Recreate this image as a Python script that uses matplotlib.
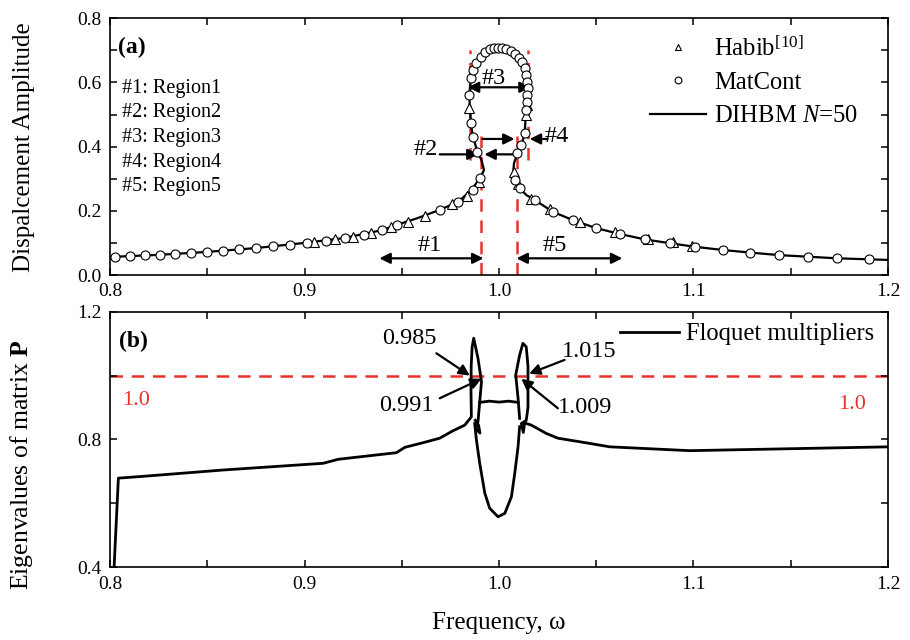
import matplotlib
matplotlib.use("Agg")
import matplotlib.pyplot as plt
from matplotlib.ticker import MultipleLocator, FixedLocator

plt.rcParams['font.family'] = ['Liberation Serif', 'DejaVu Serif']
plt.rcParams['mathtext.fontset'] = 'custom'
plt.rcParams['mathtext.rm'] = 'Liberation Serif'
plt.rcParams['mathtext.it'] = 'Liberation Serif:italic'
plt.rcParams['mathtext.bf'] = 'Liberation Serif:bold'

RED = '#e8322c'

# ---------------- (a) amplitude response ----------------
dihbm_freq = [0.800, 0.8026, 0.8257, 0.850, 0.875, 0.900, 0.920, 0.940, 0.9473, 0.958,
              0.9695, 0.979, 0.9858, 0.9901, 0.9923, 0.991, 0.9889, 0.9866, 0.9855, 0.985,
              0.9847, 0.9855, 0.9884, 0.993, 0.9995, 1.006, 1.0101, 1.0132, 1.0149, 1.0144,
              1.0137, 1.0132, 1.0115, 1.0095, 1.0077, 1.0074, 1.0081, 1.0106, 1.0141, 1.0183,
              1.0277, 1.038, 1.050, 1.062, 1.075, 1.088, 1.1007, 1.115, 1.129, 1.144,
              1.159, 1.174, 1.190, 1.200]
dihbm_amp = [0.055, 0.057, 0.063, 0.072, 0.084, 0.100, 0.115, 0.140, 0.156, 0.177,
             0.203, 0.228, 0.265, 0.301, 0.327, 0.358, 0.384, 0.431, 0.473, 0.524,
             0.561, 0.613, 0.660, 0.696, 0.708, 0.698, 0.677, 0.644, 0.582, 0.538,
             0.493, 0.441, 0.405, 0.379, 0.348, 0.327, 0.296, 0.270, 0.249, 0.234,
             0.197, 0.171, 0.146, 0.128, 0.111, 0.099, 0.088, 0.078, 0.070, 0.062,
             0.057, 0.052, 0.049, 0.047]

matcont_freq = [0.8026, 0.8103, 0.818, 0.8257, 0.8334, 0.8415, 0.8497, 0.8579, 0.8665, 0.875,
                0.8836, 0.8925, 0.9014, 0.911, 0.9207, 0.9305, 0.9396, 0.9473, 0.9695, 0.979,
                0.9866, 0.9901, 0.9889, 0.9866, 0.9855, 0.9847, 0.9855, 0.9866, 0.9884, 0.9906,
                0.993, 0.9952, 0.9974, 0.9995, 1.0015, 1.0038, 1.006, 1.008, 1.0101, 1.012,
                1.0132, 1.0141, 1.0146, 1.0149, 1.0146, 1.0144, 1.0137, 1.0132, 1.0115, 1.0095,
                1.0081, 1.0106, 1.0183, 1.0277, 1.038, 1.050, 1.062, 1.075, 1.088, 1.1007,
                1.115, 1.129, 1.144, 1.159, 1.174, 1.190]
matcont_amp = [0.057, 0.059, 0.061, 0.063, 0.065, 0.0686, 0.0717, 0.0758, 0.080, 0.084,
               0.089, 0.0935, 0.1007, 0.107, 0.115, 0.125, 0.140, 0.156, 0.203, 0.228,
               0.265, 0.301, 0.384, 0.431, 0.473, 0.561, 0.613, 0.639, 0.660, 0.680,
               0.696, 0.703, 0.706, 0.708, 0.707, 0.704, 0.698, 0.689, 0.677, 0.663,
               0.644, 0.623, 0.602, 0.582, 0.561, 0.538, 0.514, 0.441, 0.405, 0.379,
               0.296, 0.270, 0.234, 0.197, 0.171, 0.146, 0.128, 0.111, 0.099, 0.088,
               0.078, 0.070, 0.062, 0.057, 0.052, 0.049]

habib_freq = [0.905, 0.9155, 0.925, 0.934, 0.9445, 0.953, 0.962, 0.976, 0.9835, 0.9895,
              0.9848, 1.0142, 1.0138, 1.0075, 1.0096, 1.0165, 1.0260, 1.0414, 1.0594, 1.0765,
              1.0897, 1.099]
habib_amp = [0.103, 0.111, 0.120, 0.130, 0.149, 0.165, 0.184, 0.220, 0.247, 0.290,
             0.519, 0.530, 0.500, 0.322, 0.283, 0.238, 0.206, 0.166, 0.135, 0.111,
             0.104, 0.090]

amp_ticks = [0.0, 0.2, 0.4, 0.6, 0.8]
amp_tick_labels = ['0.0', '0.2', '0.4', '0.6', '0.8']
freq_ticks = [0.8, 0.9, 1.0, 1.1, 1.2]
freq_tick_labels = ['0.8', '0.9', '1.0', '1.1', '1.2']
eig_ticks = [0.4, 0.8, 1.2]
eig_tick_labels = ['0.4', '0.8', '1.2']

region_labels = ['#1: Region1', '#2: Region2', '#3: Region3', '#4: Region4', '#5: Region5']
boundary_freqs = [0.985, 0.991, 1.009, 1.015]

# ---------------- (b) Floquet multipliers ----------------
fm_left_freq = [0.8017, 0.8043, 0.8155, 0.8582, 0.9096, 0.9173, 0.9473, 0.9516, 0.961, 0.9695,
                0.9764, 0.9824, 0.9858, 0.9856, 0.9857, 0.9862, 0.987, 0.9892, 0.991, 0.9901,
                0.9892, 0.9880, 0.9902, 0.9895, 0.9878]
fm_left_val = [0.35, 0.679, 0.684, 0.7045, 0.7255, 0.738, 0.7587, 0.7755, 0.790, 0.804,
               0.8275, 0.845, 0.871, 0.95, 1.03, 1.09, 1.117, 1.054, 0.981, 0.918,
               0.856, 0.835, 0.820, 0.845, 0.86]
fm_link_freq = [0.9900, 0.9950, 1.0000, 1.0050, 1.0098]
fm_link_val = [0.916, 0.920, 0.917, 0.920, 0.916]
fm_u_freq = [0.9875, 0.9884, 0.9901, 0.9927, 0.9952, 0.9995, 1.003, 1.0064, 1.0081, 1.0098,
             1.0106]
fm_u_val = [0.85, 0.798, 0.725, 0.632, 0.585, 0.558, 0.569, 0.621, 0.694, 0.777,
            0.84]
fm_right_freq = [1.0106, 1.0098, 1.0086, 1.0106, 1.0123, 1.0140, 1.0149, 1.0149, 1.0140, 1.0115,
                 1.0125, 1.0132, 1.0166, 1.0243, 1.0303, 1.0414, 1.057, 1.098, 1.200]
fm_right_val = [0.866, 0.929, 1.002, 1.064, 1.101, 1.09, 1.03, 0.90, 0.86, 0.85,
                0.822, 0.852, 0.845, 0.819, 0.804, 0.793, 0.777, 0.765, 0.777]

multiplier_marks = [('0.985', 0.985, 1.0, 0.9541, 1.1167, 0.9678, 1.0698),
                    ('0.991', 0.991, 0.990, 0.9524, 0.905, 0.9695, 0.929),
                    ('1.015', 1.0155, 1.006, 1.0466, 1.075, 1.0337, 1.049),
                    ('1.009', 1.0115, 0.990, 1.044, 0.9008, 1.0303, 0.8975)]

fig = plt.figure(figsize=(9.1, 6.4), dpi=100)
ax1 = fig.add_axes([0.1209, 0.5703, 0.8549, 0.4011])
ax2 = fig.add_axes([0.1209, 0.1136, 0.8549, 0.3994])

for ax in (ax1, ax2):
    ax.set_xlim(0.8, 1.2)
    ax.xaxis.set_major_locator(FixedLocator(freq_ticks))
    ax.xaxis.set_minor_locator(MultipleLocator(0.05))
    ax.set_xticklabels(freq_tick_labels)
    ax.tick_params(which='both', direction='in', top=True, right=True,
                   length=5, width=1.1, labelsize=14, pad=6)
    for s in ax.spines.values():
        s.set_linewidth(1.2)

# panel (a)
ax1.set_ylim(0, 0.8)
ax1.yaxis.set_major_locator(FixedLocator(amp_ticks))
ax1.yaxis.set_minor_locator(MultipleLocator(0.1))
ax1.set_yticklabels(amp_tick_labels)

dash = (0, (5, 3.5))
for f in boundary_freqs:
    if f in (0.985, 1.015):
        ax1.plot([f, f], [0.357, 0.70], color=RED, lw=1.8, linestyle=dash, zorder=1)
    else:
        ax1.plot([f, f], [0.0, 0.434], color=RED, lw=1.8, linestyle=dash, zorder=1)

ax1.plot(dihbm_freq, dihbm_amp, color='k', lw=1.6, zorder=2, label='DIHBM $N$=50')
ax1.plot(habib_freq, habib_amp, linestyle='none', marker='^', ms=6.5, mfc='white',
         mec='k', mew=0.8, zorder=3, label='Habib$^{[10]}$')
ax1.plot(matcont_freq, matcont_amp, linestyle='none', marker='o', ms=6.5, mfc='white',
         mec='k', mew=0.8, zorder=4, label='MatCont')

h, l = ax1.get_legend_handles_labels()
order = [1, 2, 0]
ax1.legend([h[i] for i in order], [l[i] for i in order], loc='upper left',
           bbox_to_anchor=(0.694, 0.93), frameon=False, fontsize=17.7,
           handlelength=2.3, handletextpad=0.3, labelspacing=0.45,
           borderpad=0, borderaxespad=0, markerscale=0.75)

ax1.text(0.8043, 0.709, '(a)', fontsize=17, fontweight='bold', va='center', ha='left')
for i, txt in enumerate(region_labels):
    ax1.text(0.806, 0.582 - i * 0.0768, txt, fontsize=14.5, va='center', ha='left')

arrow_kw = dict(arrowstyle='-|>', color='k', lw=1.6, mutation_scale=16,
                shrinkA=0, shrinkB=0)
both_kw = dict(arrowstyle='<|-|>', color='k', lw=1.6, mutation_scale=16,
               shrinkA=0, shrinkB=0)
# region 1 and 5
ax1.annotate('', xy=(0.9385, 0.052), xytext=(0.992, 0.052), arrowprops=both_kw)
ax1.annotate('', xy=(1.009, 0.052), xytext=(1.0634, 0.052), arrowprops=both_kw)
ax1.text(0.9645, 0.093, '#1', fontsize=17.5, ha='center', va='center')
ax1.text(1.0286, 0.093, '#5', fontsize=17.5, ha='center', va='center')
# region 3
ax1.annotate('', xy=(0.984, 0.585), xytext=(1.0163, 0.585), arrowprops=both_kw)
ax1.text(0.9973, 0.611, '#3', fontsize=17.5, ha='center', va='center')
# region 2
ax1.annotate('', xy=(0.9895, 0.376), xytext=(0.9695, 0.376), arrowprops=arrow_kw)
ax1.annotate('', xy=(0.9925, 0.376), xytext=(1.007, 0.376), arrowprops=arrow_kw)
ax1.text(0.9624, 0.39, '#2', fontsize=17.5, ha='center', va='center')
# region 4
ax1.annotate('', xy=(1.008, 0.424), xytext=(0.9916, 0.424), arrowprops=arrow_kw)
ax1.annotate('', xy=(1.0158, 0.424), xytext=(1.025, 0.424), arrowprops=arrow_kw)
ax1.text(1.0295, 0.433, '#4', fontsize=17.5, ha='center', va='center')

ax1.set_ylabel('Dispalcement Amplitude', fontsize=18)
ax1.yaxis.set_label_coords(-0.096, 0.5)

# panel (b)
ax2.set_ylim(0.4, 1.2)
ax2.yaxis.set_major_locator(FixedLocator(eig_ticks))
ax2.yaxis.set_minor_locator(MultipleLocator(0.2))
ax2.set_yticklabels(eig_tick_labels)

ax2.axhline(1.0, color=RED, lw=1.8, linestyle=dash, zorder=1)
ax2.plot(fm_left_freq, fm_left_val, color='k', lw=2.0, zorder=2, label='Floquet multipliers')
ax2.plot(fm_link_freq, fm_link_val, color='k', lw=2.0, zorder=2)
ax2.plot(fm_u_freq, fm_u_val, color='k', lw=2.0, zorder=2)
ax2.plot(fm_right_freq, fm_right_val, color='k', lw=2.0, zorder=2)

ax2.legend(loc='upper left', bbox_to_anchor=(0.6555, 0.955), frameon=False, fontsize=17.7,
           handlelength=2.4, handletextpad=0.27, borderpad=0, borderaxespad=0)

ax2.text(0.8048, 1.108, '(b)', fontsize=17, fontweight='bold', va='center', ha='left')
ax2.text(0.806, 0.922, '1.0', color=RED, fontsize=16, va='center', ha='left')
ax2.text(1.1887, 0.910, '1.0', color=RED, fontsize=16, va='center', ha='right')

for txt, hx, hy, tx, ty, ax_, ay_ in multiplier_marks:
    ax2.text(tx, ty, txt, fontsize=17.5, ha='center', va='center')
    ax2.annotate('', xy=(hx, hy), xytext=(ax_, ay_), arrowprops=arrow_kw)

ax2.set_ylabel('Eigenvalues of matrix $\\mathbf{P}$', fontsize=18.5)
ax2.yaxis.set_label_coords(-0.096, 0.4)
ax2.set_xlabel('Frequency, ω', fontsize=18, labelpad=14)

fig.savefig('out.png', dpi=100)
